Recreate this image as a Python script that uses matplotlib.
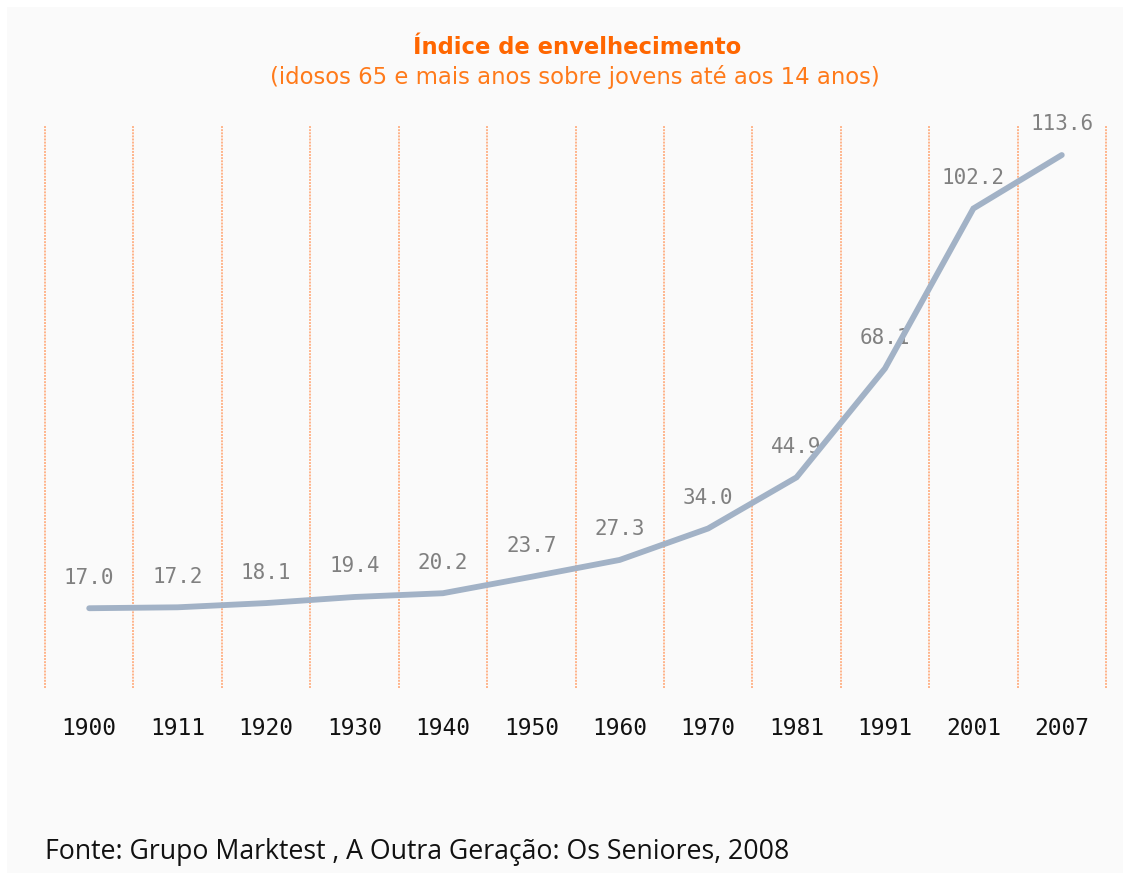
import matplotlib
matplotlib.use("Agg")
import matplotlib.pyplot as plt
from matplotlib.patches import Rectangle

years = ["1900", "1911", "1920", "1930", "1940", "1950", "1960", "1970", "1981", "1991", "2001", "2007"]
values = [17.0, 17.2, 18.1, 19.4, 20.2, 23.7, 27.3, 34.0, 44.9, 68.1, 102.2, 113.6]
value_labels = ["17.0", "17.2", "18.1", "19.4", "20.2", "23.7", "27.3", "34.0", "44.9", "68.1", "102.2", "113.6"]

title = "Índice de envelhecimento"
subtitle = "(idosos 65 e mais anos sobre jovens até aos 14 anos)"
source = "Fonte: Grupo Marktest , A Outra Geração: Os Seniores, 2008"

W, H = 1130, 880
fig = plt.figure(figsize=(W / 100, H / 100), dpi=100)
fig.patch.set_facecolor("white")
bg = Rectangle((7 / W, 7 / H), 1 - 14 / W, 1 - 14 / H,
               transform=fig.transFigure, facecolor="#fafafa",
               edgecolor="none", zorder=-10)
fig.patches.append(bg)

ax = fig.add_axes([45 / W, (H - 688) / H, 1061 / W, 563 / H])
ax.set_zorder(5)
ax.set_facecolor("none")
x = list(range(len(years)))
ax.set_xlim(-0.5, len(years) - 0.5)
ax.set_ylim(0, 120)

for b in range(len(years) + 1):
    ax.axvline(b - 0.5, color="#ffb48a", linestyle=(0, (1, 0.6)), linewidth=1.4,
               zorder=1, clip_on=False)

ax.plot(x, values, color="#a2b2c6", linewidth=4.2, solid_capstyle="round",
        solid_joinstyle="miter", zorder=3)

for xi, v, lab in zip(x, values, value_labels):
    ax.annotate(lab, (xi, v), xytext=(0, 22), textcoords="offset points",
                ha="center", va="center", color="#808080", fontsize=15,
                family="DejaVu Sans Mono", zorder=2)

ax.set_xticks(x)
ax.set_xticklabels(years, fontsize=16.5, color="#111111", family="DejaVu Sans Mono")
ax.tick_params(axis="x", length=0, pad=21)
ax.set_yticks([])
for s in ax.spines.values():
    s.set_visible(False)

fig.text(577 / W, 1 - 48 / H, title, ha="center", va="center", color="#ff6600",
         fontsize=16.3, fontweight="bold", family="DejaVu Sans")
fig.text(575 / W, 1 - 77 / H, subtitle, ha="center", va="center", color="#ff7a1a",
         fontsize=16.4, family="DejaVu Sans")
fig.text(45 / W, 1 - 852 / H, source, ha="left", va="center", color="#111111",
         fontsize=19.2, family="Open Sans")

fig.savefig("out.png", dpi=100)
